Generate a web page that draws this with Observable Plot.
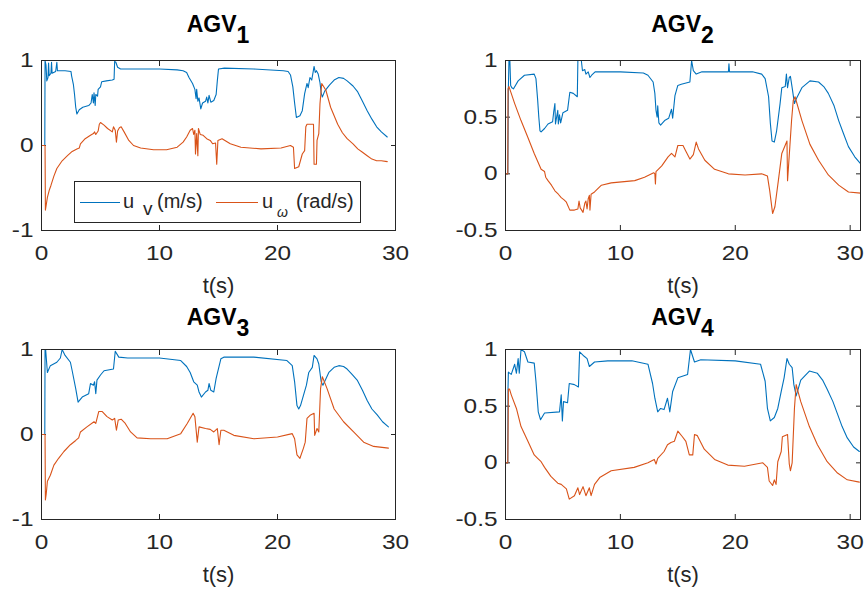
<!DOCTYPE html>
<html>
<head>
<meta charset="utf-8">
<script src="https://cdn.jsdelivr.net/npm/d3@7"></script>
<script src="https://cdn.jsdelivr.net/npm/@observablehq/plot@0.6"></script>
<style>
  body { margin: 0; background: #fff; }
  #root { position: relative; width: 868px; height: 590px; overflow: hidden; font-family: "Liberation Sans", Arial, Helvetica, sans-serif; }
  .panel { position: absolute; }
  #overlay { position: absolute; left: 0; top: 0; pointer-events: none; }
</style>
</head>
<body>
<div id="root"></div>
<script>
// ---------- data: [t (s), value] ----------
const agv1_uv = [[0,0],[0.28,0],[0.3,1.0],[0.38,0.95],[0.45,0.76],[0.55,0.8],[0.6,0.97],[0.65,0.82],[0.8,0.85],[0.85,0.98],[0.9,0.85],[1.2,0.87],[1.3,0.98],[1.35,0.88],[2.0,0.88],[2.5,0.87],[2.55,0.82],[2.7,0.72],[2.8,0.6],[2.9,0.45],[3.0,0.37],[3.2,0.42],[3.5,0.45],[4.0,0.47],[4.2,0.5],[4.3,0.6],[4.4,0.5],[4.45,0.62],[4.55,0.47],[4.6,0.6],[4.75,0.58],[4.8,0.66],[5.0,0.69],[5.1,0.75],[5.5,0.76],[6.0,0.77],[6.15,0.78],[6.2,0.99],[6.3,0.98],[6.45,0.92],[6.7,0.9],[8,0.9],[10,0.9],[11.5,0.89],[12.0,0.88],[12.3,0.86],[12.5,0.8],[12.8,0.73],[13.0,0.66],[13.1,0.55],[13.15,0.66],[13.25,0.52],[13.35,0.56],[13.5,0.43],[13.65,0.5],[13.9,0.52],[14.0,0.57],[14.1,0.5],[14.2,0.59],[14.35,0.51],[14.6,0.53],[14.8,0.6],[14.9,0.76],[15.0,0.9],[15.5,0.91],[18,0.9],[20.5,0.88],[20.9,0.87],[21.1,0.83],[21.3,0.69],[21.45,0.5],[21.6,0.33],[21.9,0.35],[22.1,0.41],[22.3,0.61],[22.5,0.73],[22.6,0.68],[22.75,0.8],[22.9,0.77],[23.1,0.93],[23.2,0.86],[23.3,0.88],[23.45,0.84],[23.6,0.74],[23.7,0.62],[23.8,0.57],[24.0,0.64],[24.4,0.71],[24.8,0.77],[25.2,0.8],[25.6,0.79],[25.9,0.76],[26.4,0.7],[26.8,0.63],[27.2,0.52],[27.6,0.41],[28.0,0.31],[28.4,0.22],[28.8,0.16],[29.3,0.1]];
const agv1_uw = [[0,0],[0.3,0],[0.33,-0.76],[0.4,-0.7],[0.5,-0.61],[0.65,-0.53],[0.8,-0.47],[1.05,-0.36],[1.3,-0.27],[1.75,-0.18],[2.2,-0.12],[2.6,-0.07],[3.0,-0.04],[3.2,-0.03],[3.3,0.02],[3.7,0.08],[4.15,0.12],[4.4,0.14],[4.5,0.16],[4.6,0.13],[4.8,0.17],[4.9,0.25],[5.0,0.27],[5.3,0.24],[5.6,0.2],[6.0,0.16],[6.1,0.22],[6.25,0.18],[6.35,0.04],[6.45,0.17],[6.6,0.21],[6.75,0.22],[7.0,0.16],[7.4,0.06],[7.8,0.0],[8.4,-0.03],[9.5,-0.05],[10.6,-0.05],[11.5,-0.02],[12.0,0.04],[12.3,0.1],[12.6,0.18],[12.8,0.2],[12.9,0.13],[13.0,0.18],[13.05,-0.1],[13.15,0.14],[13.25,-0.12],[13.3,0.2],[13.45,0.13],[13.7,0.12],[14.0,0.08],[14.3,0.06],[14.5,0.02],[14.75,0.03],[14.85,-0.22],[14.95,0.06],[15.3,0.08],[16.0,0.02],[16.9,-0.02],[18.6,-0.04],[20.3,-0.03],[21.1,0.0],[21.35,-0.02],[21.45,-0.27],[21.8,-0.25],[22.0,-0.15],[22.1,-0.1],[22.3,-0.06],[22.4,0.22],[22.5,0.25],[23.05,0.25],[23.1,-0.22],[23.3,-0.22],[23.35,0.06],[23.5,0.14],[23.6,0.49],[23.75,0.73],[24.1,0.65],[24.5,0.45],[25.1,0.25],[25.5,0.15],[25.9,0.08],[26.4,0.02],[26.8,-0.04],[27.2,-0.08],[27.6,-0.12],[28.0,-0.16],[28.4,-0.18],[28.8,-0.18],[29.3,-0.19]];

const agv2_uv = [[0,0],[0.2,0],[0.25,0.75],[0.3,1.0],[0.38,1.0],[0.45,0.78],[0.55,0.76],[0.7,0.75],[1.1,0.82],[1.65,0.87],[2.5,0.88],[2.65,0.84],[2.8,0.65],[2.9,0.5],[3.0,0.38],[3.1,0.37],[3.4,0.4],[3.7,0.44],[4.1,0.46],[4.2,0.55],[4.3,0.62],[4.35,0.44],[4.45,0.5],[4.55,0.56],[4.6,0.44],[4.7,0.52],[4.8,0.45],[5.0,0.54],[5.4,0.56],[5.6,0.72],[5.9,0.71],[6.25,0.68],[6.3,1.0],[6.6,1.0],[6.7,0.91],[6.9,0.92],[7.0,0.88],[7.2,0.9],[7.35,0.85],[7.5,0.87],[7.8,0.9],[10,0.9],[12.0,0.89],[12.4,0.87],[12.85,0.81],[13.0,0.71],[13.1,0.56],[13.2,0.5],[13.25,0.6],[13.35,0.45],[13.5,0.43],[13.85,0.47],[14.2,0.49],[14.45,0.57],[14.55,0.49],[14.75,0.69],[15.0,0.78],[15.3,0.79],[16.05,0.81],[16.2,1.0],[16.35,0.91],[16.6,0.88],[17.1,0.9],[19.4,0.9],[19.45,0.97],[19.5,0.9],[21.5,0.9],[22.3,0.88],[22.6,0.84],[22.9,0.68],[23.05,0.45],[23.2,0.29],[23.4,0.28],[23.6,0.38],[23.9,0.62],[24.05,0.76],[24.35,0.77],[24.45,0.88],[24.55,0.76],[24.7,0.85],[24.8,0.86],[24.95,0.76],[25.15,0.62],[25.3,0.66],[25.8,0.76],[26.5,0.82],[27.25,0.81],[27.7,0.77],[28.1,0.71],[28.6,0.6],[29.0,0.47],[29.4,0.36],[29.85,0.24],[30.4,0.15],[30.9,0.09]];
const agv2_uw = [[0,0],[0.2,0],[0.22,0.75],[0.3,0.77],[0.5,0.71],[0.8,0.62],[1.35,0.47],[1.95,0.32],[2.5,0.18],[3.1,0.04],[3.4,0.02],[3.5,-0.03],[3.7,-0.06],[4.0,-0.1],[4.3,-0.15],[4.6,-0.18],[4.85,-0.21],[5.1,-0.23],[5.3,-0.25],[5.6,-0.32],[6.0,-0.32],[6.3,-0.31],[6.4,-0.24],[6.5,-0.3],[6.75,-0.34],[6.9,-0.26],[7.0,-0.24],[7.1,-0.31],[7.2,-0.22],[7.3,-0.19],[7.35,-0.32],[7.45,-0.18],[7.75,-0.16],[8.35,-0.1],[9.2,-0.08],[11.25,-0.06],[12.1,-0.03],[12.9,0.01],[13.0,0.0],[13.05,-0.09],[13.1,0.02],[13.6,0.07],[14.15,0.15],[14.45,0.18],[14.75,0.15],[15.0,0.25],[15.45,0.25],[15.7,0.2],[16.05,0.13],[16.35,0.17],[16.6,0.28],[16.8,0.22],[17.35,0.12],[18.2,0.04],[19.4,0.0],[20.85,-0.01],[22.3,0.0],[22.8,-0.02],[23.0,-0.15],[23.25,-0.35],[23.45,-0.29],[23.75,-0.06],[24.05,0.18],[24.5,0.29],[24.55,-0.06],[24.75,0.24],[24.9,0.47],[25.05,0.65],[25.2,0.68],[25.8,0.47],[26.5,0.26],[27.25,0.12],[28.1,-0.01],[29.0,-0.1],[29.85,-0.16],[30.9,-0.17]];

const agv3_uv = [[0,0],[0.28,0],[0.3,1.0],[0.35,1.0],[0.5,0.73],[0.75,0.81],[1.3,0.85],[1.6,0.9],[1.75,1.0],[2.0,0.93],[2.45,0.85],[2.6,0.75],[2.9,0.54],[3.1,0.38],[3.45,0.44],[4.0,0.48],[4.15,0.6],[4.4,0.58],[4.5,0.62],[4.6,0.48],[4.7,0.64],[5.0,0.7],[5.3,0.75],[6.1,0.77],[6.25,0.98],[6.55,0.91],[7.3,0.9],[10,0.9],[11.8,0.87],[12.3,0.8],[12.6,0.73],[12.9,0.62],[13.2,0.58],[13.35,0.5],[13.55,0.44],[13.9,0.5],[14.1,0.52],[14.2,0.6],[14.35,0.52],[14.6,0.5],[14.8,0.66],[15.2,0.89],[15.45,0.91],[18,0.91],[20.8,0.87],[21.25,0.81],[21.45,0.62],[21.65,0.34],[21.8,0.3],[21.95,0.34],[22.2,0.46],[22.45,0.58],[22.65,0.73],[22.95,0.79],[23.1,0.93],[23.35,0.89],[23.5,0.83],[23.7,0.62],[23.85,0.58],[24.35,0.73],[24.8,0.79],[25.2,0.81],[25.6,0.8],[25.9,0.77],[26.3,0.71],[26.75,0.64],[27.2,0.52],[27.6,0.4],[28.0,0.3],[28.45,0.23],[28.9,0.15],[29.4,0.09]];
const agv3_uw = [[0,0],[0.3,0],[0.33,-0.77],[0.4,-0.7],[0.5,-0.55],[0.75,-0.48],[1.05,-0.36],[1.45,-0.28],[1.9,-0.2],[2.45,-0.12],[2.9,-0.07],[3.15,-0.04],[3.3,0.03],[3.85,0.09],[4.45,0.15],[4.6,0.13],[4.85,0.27],[5.15,0.27],[5.55,0.21],[6.0,0.17],[6.2,0.19],[6.35,0.05],[6.5,0.17],[6.75,0.18],[7.1,0.13],[7.55,0.03],[8.1,-0.04],[9.25,-0.05],[10.65,-0.05],[11.8,0.01],[12.35,0.13],[12.85,0.25],[13.0,0.21],[13.2,-0.09],[13.35,0.09],[13.9,0.07],[14.3,0.06],[14.6,0.03],[14.9,0.07],[15.05,-0.12],[15.2,0.05],[15.45,0.05],[16.3,-0.01],[18.0,-0.05],[20.0,-0.03],[21.25,0.01],[21.45,-0.05],[21.65,-0.24],[21.9,-0.28],[22.2,-0.16],[22.35,-0.09],[22.5,0.19],[22.8,0.23],[23.1,0.25],[23.15,-0.01],[23.35,0.07],[23.5,0.03],[23.65,0.54],[23.8,0.68],[24.2,0.54],[24.8,0.3],[25.6,0.15],[26.45,0.03],[27.3,-0.09],[28.15,-0.14],[29.4,-0.16]];

const agv4_uv = [[0,0],[0.2,0],[0.22,0.66],[0.25,0.8],[0.5,0.78],[0.8,0.87],[0.95,0.79],[1.1,0.92],[1.2,0.79],[1.35,1.0],[1.65,0.98],[1.95,0.89],[2.5,0.88],[2.65,0.72],[2.85,0.45],[3.05,0.38],[3.4,0.44],[4.7,0.45],[4.85,0.6],[4.95,0.37],[5.05,0.54],[5.4,0.53],[5.55,0.7],[6.0,0.69],[6.35,0.67],[6.45,0.98],[6.85,0.94],[7.1,0.92],[7.3,0.85],[7.75,0.89],[8.9,0.9],[11,0.9],[12.4,0.87],[12.8,0.7],[13.0,0.57],[13.25,0.45],[13.5,0.48],[13.8,0.47],[14.1,0.57],[14.3,0.45],[14.55,0.63],[15.0,0.75],[15.85,0.78],[16.1,1.0],[16.45,0.89],[17.0,0.91],[20,0.9],[22.2,0.87],[22.6,0.72],[22.8,0.48],[23.05,0.37],[23.4,0.4],[23.7,0.48],[24.0,0.63],[24.25,0.75],[24.5,0.92],[24.7,0.87],[24.95,0.84],[25.1,0.69],[25.3,0.59],[25.7,0.73],[26.45,0.81],[27.15,0.79],[27.6,0.73],[28.0,0.65],[28.5,0.54],[28.9,0.43],[29.3,0.32],[29.75,0.22],[30.3,0.14],[30.8,0.1]];
const agv4_uw = [[0,0],[0.2,0],[0.25,0.65],[0.35,0.65],[0.5,0.6],[0.95,0.48],[1.35,0.32],[1.95,0.19],[2.5,0.07],[2.8,0.04],[3.1,0.01],[3.4,-0.04],[3.95,-0.12],[4.55,-0.18],[4.85,-0.19],[5.3,-0.23],[5.55,-0.32],[6.0,-0.29],[6.3,-0.22],[6.45,-0.28],[6.75,-0.21],[7.0,-0.29],[7.3,-0.22],[7.45,-0.29],[7.75,-0.19],[8.2,-0.13],[9.2,-0.07],[11.2,-0.04],[12.4,0.0],[12.95,0.03],[13.1,-0.01],[13.25,0.04],[13.8,0.1],[14.1,0.16],[14.4,0.18],[14.7,0.19],[15.0,0.28],[15.4,0.23],[15.7,0.19],[16.0,0.07],[16.3,0.07],[16.45,0.25],[16.7,0.24],[17.3,0.12],[18.2,0.03],[19.35,-0.02],[20.8,-0.03],[22.4,0.0],[22.8,-0.04],[22.95,-0.16],[23.25,-0.2],[23.4,-0.15],[23.55,-0.19],[23.7,0.01],[24.0,0.1],[24.1,0.23],[24.55,0.25],[24.7,-0.01],[24.8,-0.07],[24.95,0.0],[25.15,0.48],[25.3,0.69],[25.7,0.54],[26.45,0.32],[27.15,0.16],[28.0,0.01],[28.9,-0.09],[29.75,-0.15],[30.8,-0.17]];

const xTicks = [0, 10, 20, 30];
const yTicksA = [-1, 0, 1];
const yTicksB = [-0.5, 0, 0.5, 1];
const titles = ["AGV", "AGV", "AGV", "AGV"];
const titleSubs = ["1", "2", "3", "4"];
const xLabel = "t(s)";
const legendLabels = ["u", "u"];
const legendSubs = ["v", "ω"];
const legendUnits = ["(m/s)", "(rad/s)"];

// ---------- layout ----------
const BLUE = "#0072BD", ORANGE = "#D95319", AX = "#262626";
const FONT = '"Liberation Sans", Arial, Helvetica, sans-serif';
const W = 434, H = 300;
const panels = [
  {uv: agv1_uv, uw: agv1_uw, left: 0,   top: 0,   xMax: 30,   yDom: [-1, 1],   yTicks: yTicksA, ml: 41, mr: 39, titleY: 32},
  {uv: agv2_uv, uw: agv2_uw, left: 434, top: 0,   xMax: 30.9, yDom: [-0.5, 1], yTicks: yTicksB, ml: 71, mr: 8,  titleY: 32},
  {uv: agv3_uv, uw: agv3_uw, left: 0,   top: 289, xMax: 30,   yDom: [-1, 1],   yTicks: yTicksA, ml: 41, mr: 39, titleY: 325},
  {uv: agv4_uv, uw: agv4_uw, left: 434, top: 289, xMax: 30.9, yDom: [-0.5, 1], yTicks: yTicksB, ml: 71, mr: 8,  titleY: 325}
];

const root = document.getElementById("root");
const SVGNS = "http://www.w3.org/2000/svg";

// widen tick labels horizontally (the reference glyphs are stretched)
function stretch(svg, s) {
  svg.querySelectorAll('g[aria-label$="tick label"] text').forEach(t => {
    const g = document.createElementNS(SVGNS, "g");
    t.parentNode.insertBefore(g, t);
    g.appendChild(t);
    const b = g.getBBox();
    if (!b.width) return;
    const isY = t.closest('g[aria-label^="y-axis"]') !== null;
    const a = isY ? b.x + b.width : b.x + b.width / 2;
    g.setAttribute("transform", `translate(${a},0) scale(${s},1) translate(${-a},0)`);
  });
}

panels.forEach(p => {
  const chart = Plot.plot({
    width: W, height: H,
    marginTop: 60, marginBottom: 70, marginLeft: p.ml, marginRight: p.mr,
    style: {background: "transparent", fontFamily: FONT, color: AX, overflow: "visible"},
    x: {domain: [0, p.xMax]},
    y: {domain: p.yDom},
    marks: [
      Plot.axisX({ticks: xTicks, anchor: "bottom", tickSize: -5, tickPadding: 20, fontSize: 20, tickFormat: d => String(d), label: null, stroke: AX, fill: AX}),
      Plot.axisX({ticks: xTicks, anchor: "top", tickSize: -5, tickFormat: () => "", label: null, stroke: AX}),
      Plot.axisY({ticks: p.yTicks, anchor: "left", tickSize: -5, tickPadding: 13, fontSize: 20, tickFormat: d => String(d), label: null, stroke: AX, fill: AX}),
      Plot.axisY({ticks: p.yTicks, anchor: "right", tickSize: -5, tickFormat: () => "", label: null, stroke: AX}),
      Plot.line(p.uv, {x: d => d[0], y: d => d[1], stroke: BLUE, strokeWidth: 1.1}),
      Plot.line(p.uw, {x: d => d[0], y: d => d[1], stroke: ORANGE, strokeWidth: 1.1}),
      Plot.frame({stroke: AX, strokeWidth: 1}),
      Plot.text([xLabel], {text: d => d, frameAnchor: "bottom", dy: 62, fontSize: 22, fill: AX})
    ]
  });
  const div = document.createElement("div");
  div.className = "panel";
  div.style.left = p.left + "px";
  div.style.top = p.top + "px";
  div.appendChild(chart);
  root.appendChild(div);
  stretch(chart, 1.22);
});

// ---------- titles and legend overlay ----------
const ov = d3.select(root).append("svg").attr("id", "overlay")
  .attr("width", 868).attr("height", 590)
  .style("font-family", FONT);

panels.forEach((p, i) => {
  const cx = p.left + p.ml + (W - p.ml - p.mr) / 2;
  const t = ov.append("text").attr("x", cx).attr("y", p.titleY)
    .attr("text-anchor", "middle").attr("font-weight", "bold")
    .attr("font-size", 23).attr("fill", "#000");
  t.append("tspan").text(titles[i]);
  t.append("tspan").attr("dy", 11).text(titleSubs[i]);
});

// legend (panel 1)
const lg = ov.append("g");
lg.append("rect").attr("x", 74.5).attr("y", 181.5).attr("width", 286).attr("height", 41)
  .attr("fill", "#fff").attr("stroke", AX).attr("stroke-width", 1);
const items = [
  {color: BLUE,   x1: 80,  x2: 120, ux: 123, sx: 143, sy: 215, sSize: 19, sStyle: "normal", unitX: 157},
  {color: ORANGE, x1: 216, x2: 258, ux: 262, sx: 277, sy: 217, sSize: 14, sStyle: "italic", unitX: 296}
];
items.forEach((it, i) => {
  lg.append("line").attr("x1", it.x1).attr("x2", it.x2).attr("y1", 202.5).attr("y2", 202.5)
    .attr("stroke", it.color).attr("stroke-width", 1.1);
  lg.append("text").attr("x", it.ux).attr("y", 207.5).attr("font-size", 20).attr("fill", AX).text(legendLabels[i]);
  lg.append("text").attr("x", it.sx).attr("y", it.sy).attr("font-size", it.sSize)
    .attr("font-style", it.sStyle).attr("fill", AX).text(legendSubs[i]);
  lg.append("text").attr("x", it.unitX).attr("y", 207.5).attr("font-size", 20).attr("fill", AX).text(legendUnits[i]);
});
</script>
</body>
</html>
